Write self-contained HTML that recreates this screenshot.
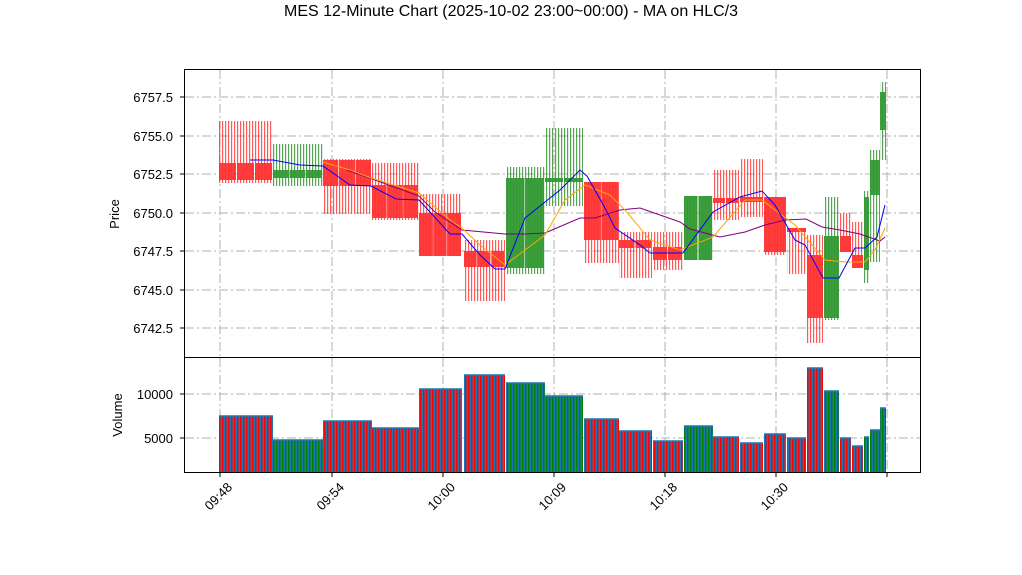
<!DOCTYPE html>
<html><head><meta charset="utf-8"><style>
html,body{margin:0;padding:0;background:#fff;}
svg{display:block;font-family:"Liberation Sans","DejaVu Sans",sans-serif;}
</style></head><body>
<svg id="s" width="1022" height="575" viewBox="0 0 1022 575" xmlns="http://www.w3.org/2000/svg">
<defs>
<pattern id="pr" width="3" height="10" patternUnits="userSpaceOnUse"><rect x="0" y="0" width="1.2" height="10" fill="#ff3030" fill-opacity="0.8"/></pattern>
<pattern id="pg" width="3" height="10" patternUnits="userSpaceOnUse"><rect x="0" y="0" width="1.2" height="10" fill="#2a8f2a" fill-opacity="0.8"/></pattern>
<pattern id="vr" width="3" height="10" patternUnits="userSpaceOnUse"><rect x="0" y="0" width="3" height="10" fill="#1f77b4"/><rect x="0" y="0" width="1.5" height="10" fill="#ff0000"/></pattern>
<pattern id="vg" width="3" height="10" patternUnits="userSpaceOnUse"><rect x="0" y="0" width="3" height="10" fill="#1f77b4"/><rect x="0" y="0" width="1.5" height="10" fill="#008000"/></pattern>
</defs>
<rect width="1022" height="575" fill="#fff"/>
<text x="511" y="16" font-size="16" text-anchor="middle">MES 12-Minute Chart (2025-10-02 23:00~00:00) - MA on HLC/3</text>
<g id="grid" stroke="#b0b0b0" stroke-width="1" stroke-dasharray="9,3,2,3" fill="none"></g>
<g id="cand"></g>
<g id="ma" fill="none" stroke-width="1"></g>
<g id="vol"></g>
<rect x="184.5" y="69.5" width="736" height="288" fill="none" stroke="#000" stroke-width="1"/>
<rect x="184.5" y="357.5" width="736" height="115" fill="none" stroke="#000" stroke-width="1"/>
<g font-size="13" text-anchor="end">
<text x="173" y="102">6757.5</text><text x="173" y="141">6755.0</text><text x="173" y="179">6752.5</text>
<text x="173" y="218">6750.0</text><text x="173" y="256">6747.5</text><text x="173" y="295">6745.0</text>
<text x="173" y="333">6742.5</text>
<text x="173" y="399">10000</text><text x="173" y="443">5000</text>
</g>
<text transform="translate(119,214) rotate(-90)" font-size="13" text-anchor="middle">Price</text>
<text transform="translate(122,415) rotate(-90)" font-size="13" text-anchor="middle">Volume</text>
<g id="xt" font-size="13" text-anchor="end">
<text transform="translate(233,488) rotate(-45)">09:48</text>
<text transform="translate(345,488) rotate(-45)">09:54</text>
<text transform="translate(456,488) rotate(-45)">10:00</text>
<text transform="translate(567,488) rotate(-45)">10:09</text>
<text transform="translate(678,488) rotate(-45)">10:18</text>
<text transform="translate(789,488) rotate(-45)">10:30</text>
</g>
</svg>
<script>
var NS="http://www.w3.org/2000/svg";
function el(p,t,a){var e=document.createElementNS(NS,t);for(var k in a)e.setAttribute(k,a[k]);document.getElementById(p).appendChild(e);return e;}
var xs=[220,332,443,554,665,776,887];
xs.forEach(function(x){
 el("grid","line",{x1:x,y1:70,x2:x,y2:357});el("grid","line",{x1:x,y1:358,x2:x,y2:472});
 el("xt","line",{x1:x,y1:473,x2:x,y2:477,stroke:"#000"});
});
[97,136,174,213,251,290,328].forEach(function(y){el("grid","line",{x1:185,y1:y,x2:920,y2:y});el("xt","line",{x1:180,y1:y,x2:184,y2:y,stroke:"#000"});});
[394,438].forEach(function(y){el("grid","line",{x1:185,y1:y,x2:920,y2:y});el("xt","line",{x1:180,y1:y,x2:184,y2:y,stroke:"#000"});});
var S=[
[219,273,121,183,163,180,"r",416],[273,323,144,186,170,178,"g",440],[323,372,159,214,160,186,"r",421],
[372,419,163,220,185,218,"r",428],[419,462,194,256,213,256,"r",389],[464,505,240,301,251,267,"r",375],
[506,545,167,274,178,268,"g",383],[545,583,128,206,178,182,"g",396],[584,619,182,263,182,240,"r",419],
[619,652,232,278,240,248,"r",431],[653,683,232,270,247,260,"r",441],[684,713,196,260,196,260,"g",426],
[713,739,170,220,198,203,"r",437],[740,763,159,217,197,202,"r",443],[764,786,197,255,197,252,"r",434],
[787,806,228,274,228,232,"r",438],[807,823,235,343,255,318,"r",368],[824,839,197,320,236,318,"g",391],
[840,851,213,252,236,252,"r",438],[852,863,222,268,255,268,"r",446],[864,869,191,283,197,270,"g",437],
[870,880,150,262,160,195,"g",430],[880,886,82,160,92,130,"g",408]];
S.forEach(function(s){
 var w=s[1]-s[0];
 el("cand","rect",{x:s[0],y:s[2],width:w,height:s[3]-s[2],fill:"url(#p"+s[6]+")"});
 var n=Math.max(1,Math.round(w/16)),bw=w/n;
 for(var i=0;i<n;i++) el("cand","rect",{x:s[0]+i*bw,y:s[4],width:bw-(n>1?1:0),height:Math.max(2,s[5]-s[4]),fill:s[6]=="r"?"#ff3333":"#339933","fill-opacity":"0.95"});
 el("vol","rect",{x:s[0],y:s[7],width:w,height:472-s[7],fill:"url(#v"+s[6]+")"});
 el("vol","line",{x1:s[0],y1:s[7],x2:s[1],y2:s[7],stroke:"#1f77b4","stroke-width":1.5});
});
function pl(c,p){el("ma","polyline",{points:p,stroke:c});}
pl("#800080","347,170 375,180 419,196 435,212 462,230 505,234 525,234 545,233 580,218 595,218 620,210 640,208 680,222 690,229 720,237 745,232 765,225 785,220 806,219 822,227 840,230 860,234 880,241 885,237");
pl("orange","323,162 350,170 371,178 419,193 450,220 462,228 480,245 505,265 525,250 545,235 565,200 585,185 610,195 625,210 650,240 680,250 713,237 745,200 762,200 795,225 825,260 845,262 865,262 875,250 885,228");
pl("blue","250,160 273,160 300,165 323,166 350,185 371,186 396,199 419,200 450,234 462,234 480,255 495,269 505,269 525,218 540,206 560,190 580,170 587,176 605,208 615,228 640,245 650,253 683,253 713,212 740,197 762,191 775,205 795,240 805,245 823,278 839,278 855,248 865,248 877,237 885,205");
</script>
</body></html>
